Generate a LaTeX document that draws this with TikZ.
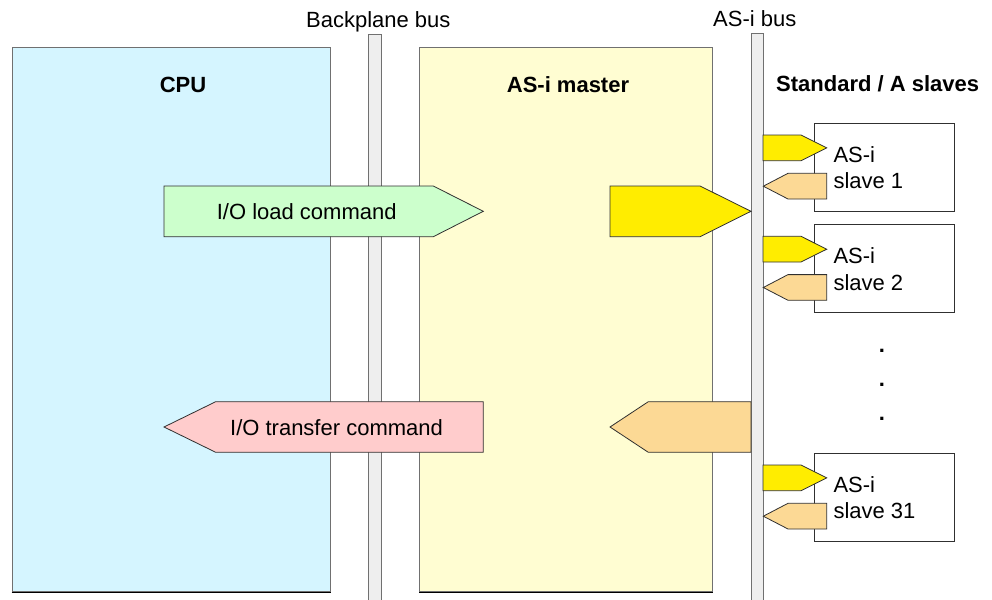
\documentclass[tikz,border=0pt]{standalone}
\usepackage{fontspec}
\setmainfont{Liberation Sans}
\definecolor{cpucol}{HTML}{D5F5FF}
\definecolor{mastercol}{HTML}{FFFDD2}
\definecolor{greencol}{HTML}{CCFFCC}
\definecolor{pinkcol}{HTML}{FFCCCC}
\definecolor{yellowcol}{HTML}{FFED00}
\definecolor{orangecol}{HTML}{FCD995}
\definecolor{busfill}{HTML}{EEEEEE}
\definecolor{boxline}{HTML}{707070}
\definecolor{arrline}{HTML}{303030}
\begin{document}
\begin{tikzpicture}[x=1pt,y=-1pt,
  box/.style={draw=boxline, line width=1pt, inner sep=0pt, anchor=north west},
  slavebox/.style={draw=arrline, line width=0.8pt, fill=white, inner sep=0pt, anchor=north west, minimum width=140pt, minimum height=88pt},
  bus/.style={draw=boxline, fill=busfill, line width=0.8pt, inner sep=0pt, anchor=north west},
  arr/.style={draw=arrline, line width=0.8pt, line join=miter},
  lbl/.style={font=\fontsize{22}{26.5}\selectfont, inner sep=0pt},
  head/.style={font=\fontsize{22}{26.5}\selectfont\bfseries, inner sep=0pt},
]
\useasboundingbox (0,0) rectangle (992,599);
% main boxes
\node[box, fill=cpucol, minimum width=318.5pt, minimum height=544pt] (cpu) at (11.5,47) {};
\node[box, fill=mastercol, minimum width=293pt, minimum height=544pt] (master) at (419,47) {};
\draw[black, line width=1pt] (cpu.south west) -- (cpu.south east);
\draw[black, line width=1pt] (master.south west) -- (master.south east);
% buses
\node[bus, minimum width=13pt, minimum height=580pt] (bpbus) at (368,34) {};
\node[bus, minimum width=12pt, minimum height=580pt] (asibus) at (751,33) {};
% slaves
\foreach \T/\n in {122.7/1, 224/2, 452.7/31}{
  \node[slavebox] (slave\n) at (814,\T) {};
  \draw[arr, fill=yellowcol] (763,\T+12.3) -- (801,\T+12.3) -- (826.7,\T+25.2) -- (801,\T+38) -- (763,\T+38) -- cycle;
  \draw[arr, fill=orangecol] (826.7,\T+50.6) -- (788,\T+50.6) -- (763.3,\T+63.5) -- (788,\T+76.3) -- (826.7,\T+76.3) -- cycle;
  \node[lbl, anchor=west, align=left] (slavetxt\n) at (833.3,\T+45) {AS-i\\slave \n};
}
% big arrows
\draw[arr, fill=greencol] (164,186) -- (433.3,186) -- (483.3,211.3) -- (433.3,236.7) -- (164,236.7) -- cycle;
\draw[arr, fill=yellowcol] (610,186) -- (700,186) -- (751,211.3) -- (700,236.7) -- (610,236.7) -- cycle;
\draw[arr, fill=pinkcol] (483.3,401.7) -- (215.7,401.7) -- (164,427) -- (215.7,452.3) -- (483.3,452.3) -- cycle;
\draw[arr, fill=orangecol] (751,401.7) -- (648.3,401.7) -- (610,427) -- (648.3,452.3) -- (751,452.3) -- cycle;
% labels
\node[lbl, anchor=base] (bplabel) at (378.3,28) {Backplane bus};
\node[lbl, anchor=base] (asilabel) at (754.8,27) {AS-i bus};
\node[head, anchor=base] (cpulabel) at (183,92.5) {CPU};
\node[head, anchor=base] (masterlabel) at (568,92.5) {AS-i master};
\node[head, anchor=base west] (slaveslabel) at (776,92) {Standard / A slaves};
\node[lbl, anchor=base] (loadtxt) at (306.7,219.3) {I/O load command};
\node[lbl, anchor=base] (transfertxt) at (336.5,435) {I/O transfer command};
\foreach \y/\k in {352/1, 386/2, 420/3}{
  \node[head, anchor=base] (dot\k) at (882,\y) {.};
}
\end{tikzpicture}
\end{document}
